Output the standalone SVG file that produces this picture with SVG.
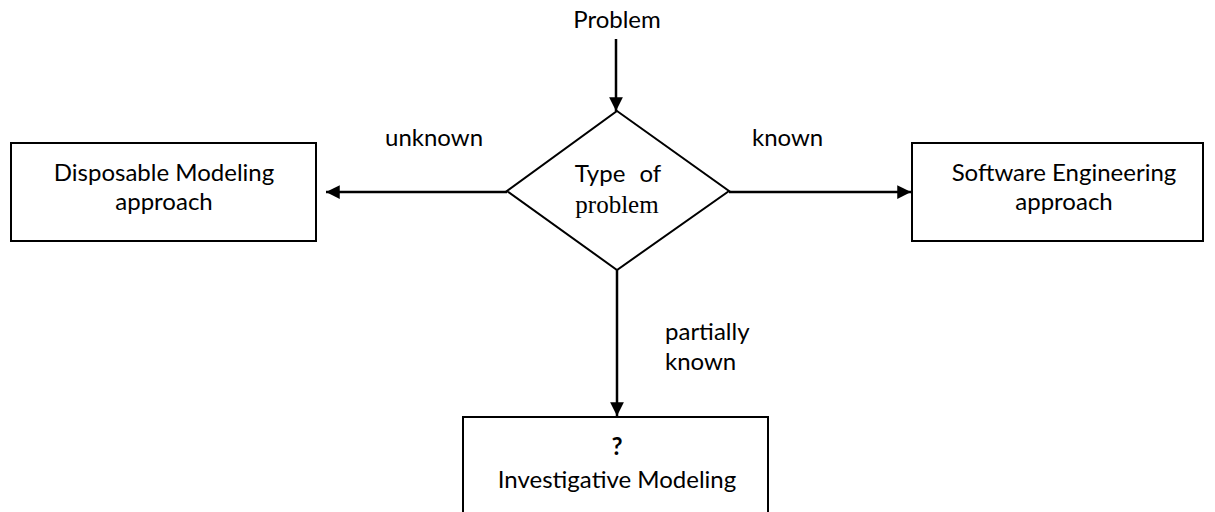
<svg xmlns="http://www.w3.org/2000/svg" width="1215" height="512" viewBox="0 0 1215 512">
<style>
text{font-family:Lato,"Open Sans","Liberation Sans",sans-serif;font-size:24px;fill:#000}
.c{text-anchor:middle}
.serif{font-family:"Liberation Serif",serif;font-size:25px}
.box{fill:#fff;stroke:#000;stroke-width:2}
.edge{stroke:#000;stroke-width:2.5;fill:none;marker-end:url(#ah)}
</style>
<defs>
<marker id="ah" viewBox="0 0 10 10" refX="10" refY="5" markerWidth="5.5" markerHeight="5.5" orient="auto" markerUnits="strokeWidth">
<path d="M0,0 L10,5 L0,10 z" fill="#000"/>
</marker>
</defs>
<g id="connectors">
<line class="edge" x1="616" y1="39" x2="616" y2="111"/>
<line class="edge" x1="507" y1="192" x2="326" y2="192"/>
<line class="edge" x1="729" y1="192" x2="911" y2="192"/>
<line class="edge" x1="617" y1="270" x2="617" y2="416"/>
<text x="385" y="146">unknown</text>
<text x="752" y="146">known</text>
<text x="665" y="340">partially</text>
<text x="665" y="370">known</text>
</g>
<g id="problem"><text class="c" x="617" y="28">Problem</text></g>
<g id="decision">
<polygon class="box" points="617,111 729,191 617,270 507,191"/>
<text class="c" x="618" y="182" style="word-spacing:8px">Type of</text>
<text class="c serif" x="617" y="213">problem</text>
</g>
<g id="disposable">
<rect class="box" x="11" y="143" width="305" height="98"/>
<text class="c" x="164" y="181">Disposable Modeling</text>
<text class="c" x="164" y="210">approach</text>
</g>
<g id="software">
<rect class="box" x="912" y="143" width="291" height="98"/>
<text class="c" x="1064" y="181">Software Engineering</text>
<text class="c" x="1064" y="210">approach</text>
</g>
<g id="investigative">
<rect class="box" x="463" y="417" width="305" height="110"/>
<text class="c" x="617" y="455" style="font-weight:bold">?</text>
<text class="c" x="617" y="488">Investigative Modeling</text>
</g>
</svg>
